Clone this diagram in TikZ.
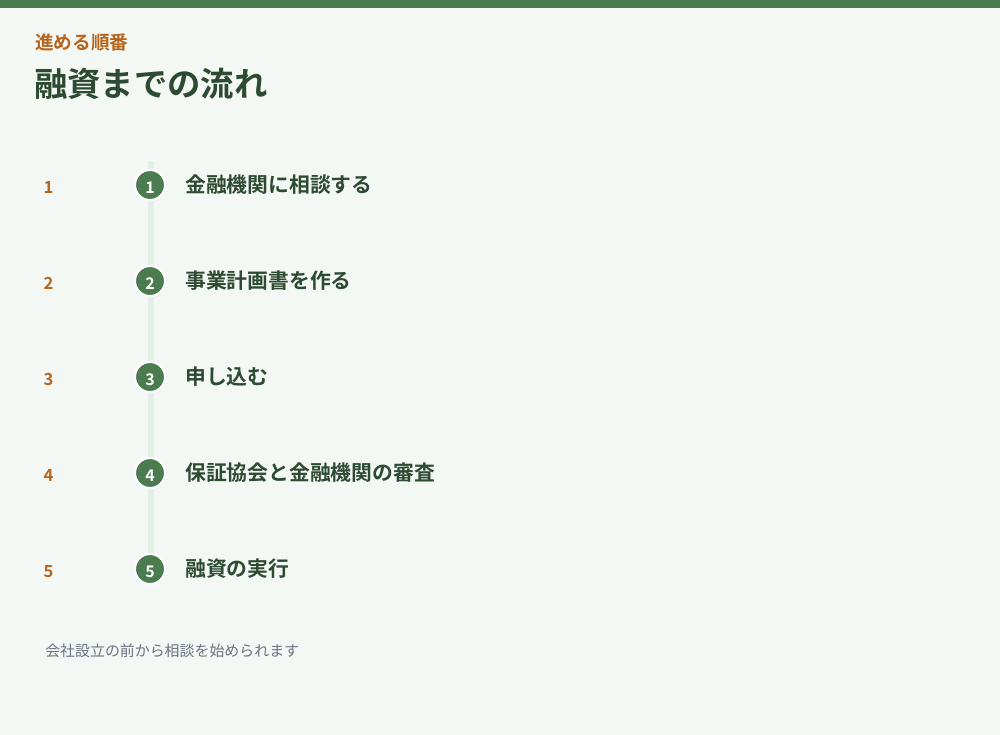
\documentclass[tikz,border=0pt]{standalone}
\usepackage{fontspec}
\setmainfont{Noto Sans CJK JP}
\newfontfamily\jpb{Noto Sans CJK JP Bold}
\definecolor{bg}{HTML}{F4F8F4}
\definecolor{bar}{HTML}{4A7C50}
\definecolor{dark}{HTML}{2D4A32}
\definecolor{accent}{HTML}{B5651D}
\definecolor{track}{HTML}{E3EFE6}
\definecolor{note}{HTML}{6B7280}
\begin{document}
\begin{tikzpicture}[x=0.75pt,y=-0.75pt,
  stepdot/.style={circle,fill=bar,draw=white,line width=1.5pt,minimum size=22.5pt,inner sep=0pt},
  dotnum/.style={text=white,font=\jpb\fontsize{12}{14}\selectfont},
  leftnum/.style={text=accent,font=\jpb\fontsize{12.5}{14}\selectfont},
  steplabel/.style={anchor=west,text=dark,inner sep=0pt,font=\jpb\fontsize{15.6}{18}\selectfont}]
\useasboundingbox (0,0) rectangle (1000,735);
\fill[bg] (0,0) rectangle (1000,735);
\fill[bar] (0,0) rectangle (1000,8);
\node[anchor=west,inner sep=0pt,text=accent,font=\jpb\fontsize{14}{16}\selectfont] (sub) at (35,42) {進める順番};
\node[anchor=west,inner sep=0pt,text=dark,font=\jpb\fontsize{25}{28}\selectfont] (title) at (34,84) {融資までの流れ};
\coordinate (ttop) at (151,161);
\coordinate (tbot) at (151,570);
\draw[track,line width=4.5pt] (ttop) -- (tbot);
\foreach \i/\t in {1/金融機関に相談する,2/事業計画書を作る,3/申し込む,4/保証協会と金融機関の審査,5/融資の実行}{
  \pgfmathsetmacro{\yy}{185+96*(\i-1)}
  \node[stepdot] (d\i) at (150,\yy) {};
  \node[dotnum] (dn\i) at (150,\yy+2.5) {\i};
  \node[leftnum] (n\i) at (48.5,\yy+2.5) {\i};
  \node[steplabel] (s\i) at (185,\yy) {\t};
}
\node[anchor=west,inner sep=0pt,text=note,font=\fontsize{11.2}{13}\selectfont] (foot) at (45,651) {会社設立の前から相談を始められます};
\end{tikzpicture}
\end{document}
